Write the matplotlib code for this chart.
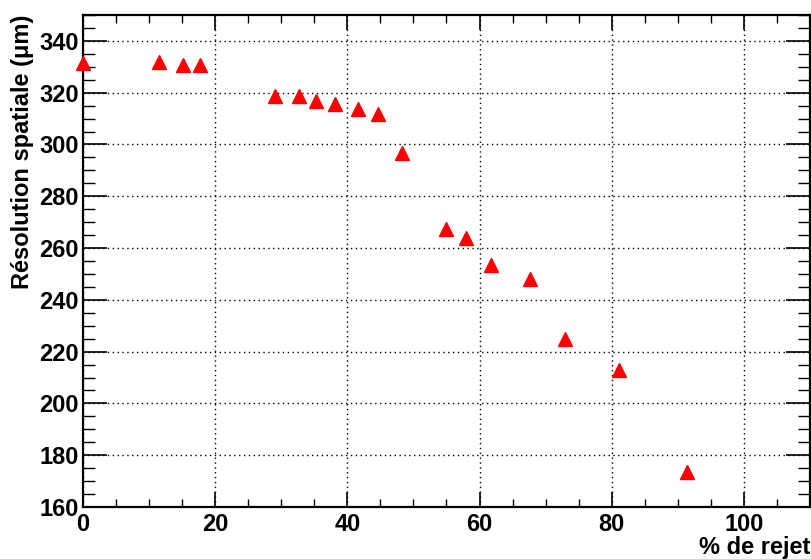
import matplotlib
matplotlib.use("Agg")
import matplotlib.pyplot as plt
from matplotlib.ticker import MultipleLocator

rejet = [0.0, 11.5, 15.2, 17.7, 29.0, 32.7, 35.2, 38.1, 41.6, 44.7, 48.2,
         55.0, 58.0, 61.8, 67.6, 72.9, 81.1, 91.4]
resolution = [331.5, 331.8, 330.6, 330.6, 318.6, 318.8, 316.6, 315.7, 313.7,
              311.7, 296.7, 267.5, 263.7, 253.6, 247.9, 224.8, 212.8, 173.6]

plt.rcParams['font.family'] = ['Liberation Sans', 'DejaVu Sans']
plt.rcParams['font.weight'] = 'bold'

fig = plt.figure(figsize=(8.11, 5.59), dpi=100)
ax = fig.add_axes([83/811, 52/559, (810-83)/811, (507-15)/559])

ax.plot(rejet, resolution, linestyle='none', marker='^', markersize=9.5,
        color='red', markeredgecolor='red', clip_on=False, zorder=5)

ax.set_xlim(0, 110)
ax.set_ylim(160, 350)
ax.xaxis.set_major_locator(MultipleLocator(20))
ax.xaxis.set_minor_locator(MultipleLocator(5))
ax.yaxis.set_major_locator(MultipleLocator(20))
ax.yaxis.set_minor_locator(MultipleLocator(5))

ax.grid(True, which='major', linestyle=(0, (1, 2.5)), color='black', linewidth=1.0)
ax.set_axisbelow(True)

for s in ax.spines.values():
    s.set_linewidth(1.6)

ax.tick_params(axis='x', which='major', direction='in', length=11, width=1.2,
               top=True, bottom=True, labelsize=17, pad=4)
ax.tick_params(axis='x', which='minor', direction='in', length=5.5, width=1.0,
               top=True, bottom=True)
ax.tick_params(axis='y', which='major', direction='in', length=17, width=1.2,
               left=True, right=True, labelsize=17, pad=3)
ax.tick_params(axis='y', which='minor', direction='in', length=8.5, width=1.0,
               left=True, right=True)
for lab in ax.get_xticklabels() + ax.get_yticklabels():
    lab.set_fontweight('bold')

ax.set_xlabel('% de rejet', fontsize=17, fontweight='bold', loc='right', labelpad=0)
ax.set_ylabel('Résolution spatiale (μm)', fontsize=17, fontweight='bold',
              loc='top', labelpad=3.5)

fig.savefig('out.png', dpi=100)
